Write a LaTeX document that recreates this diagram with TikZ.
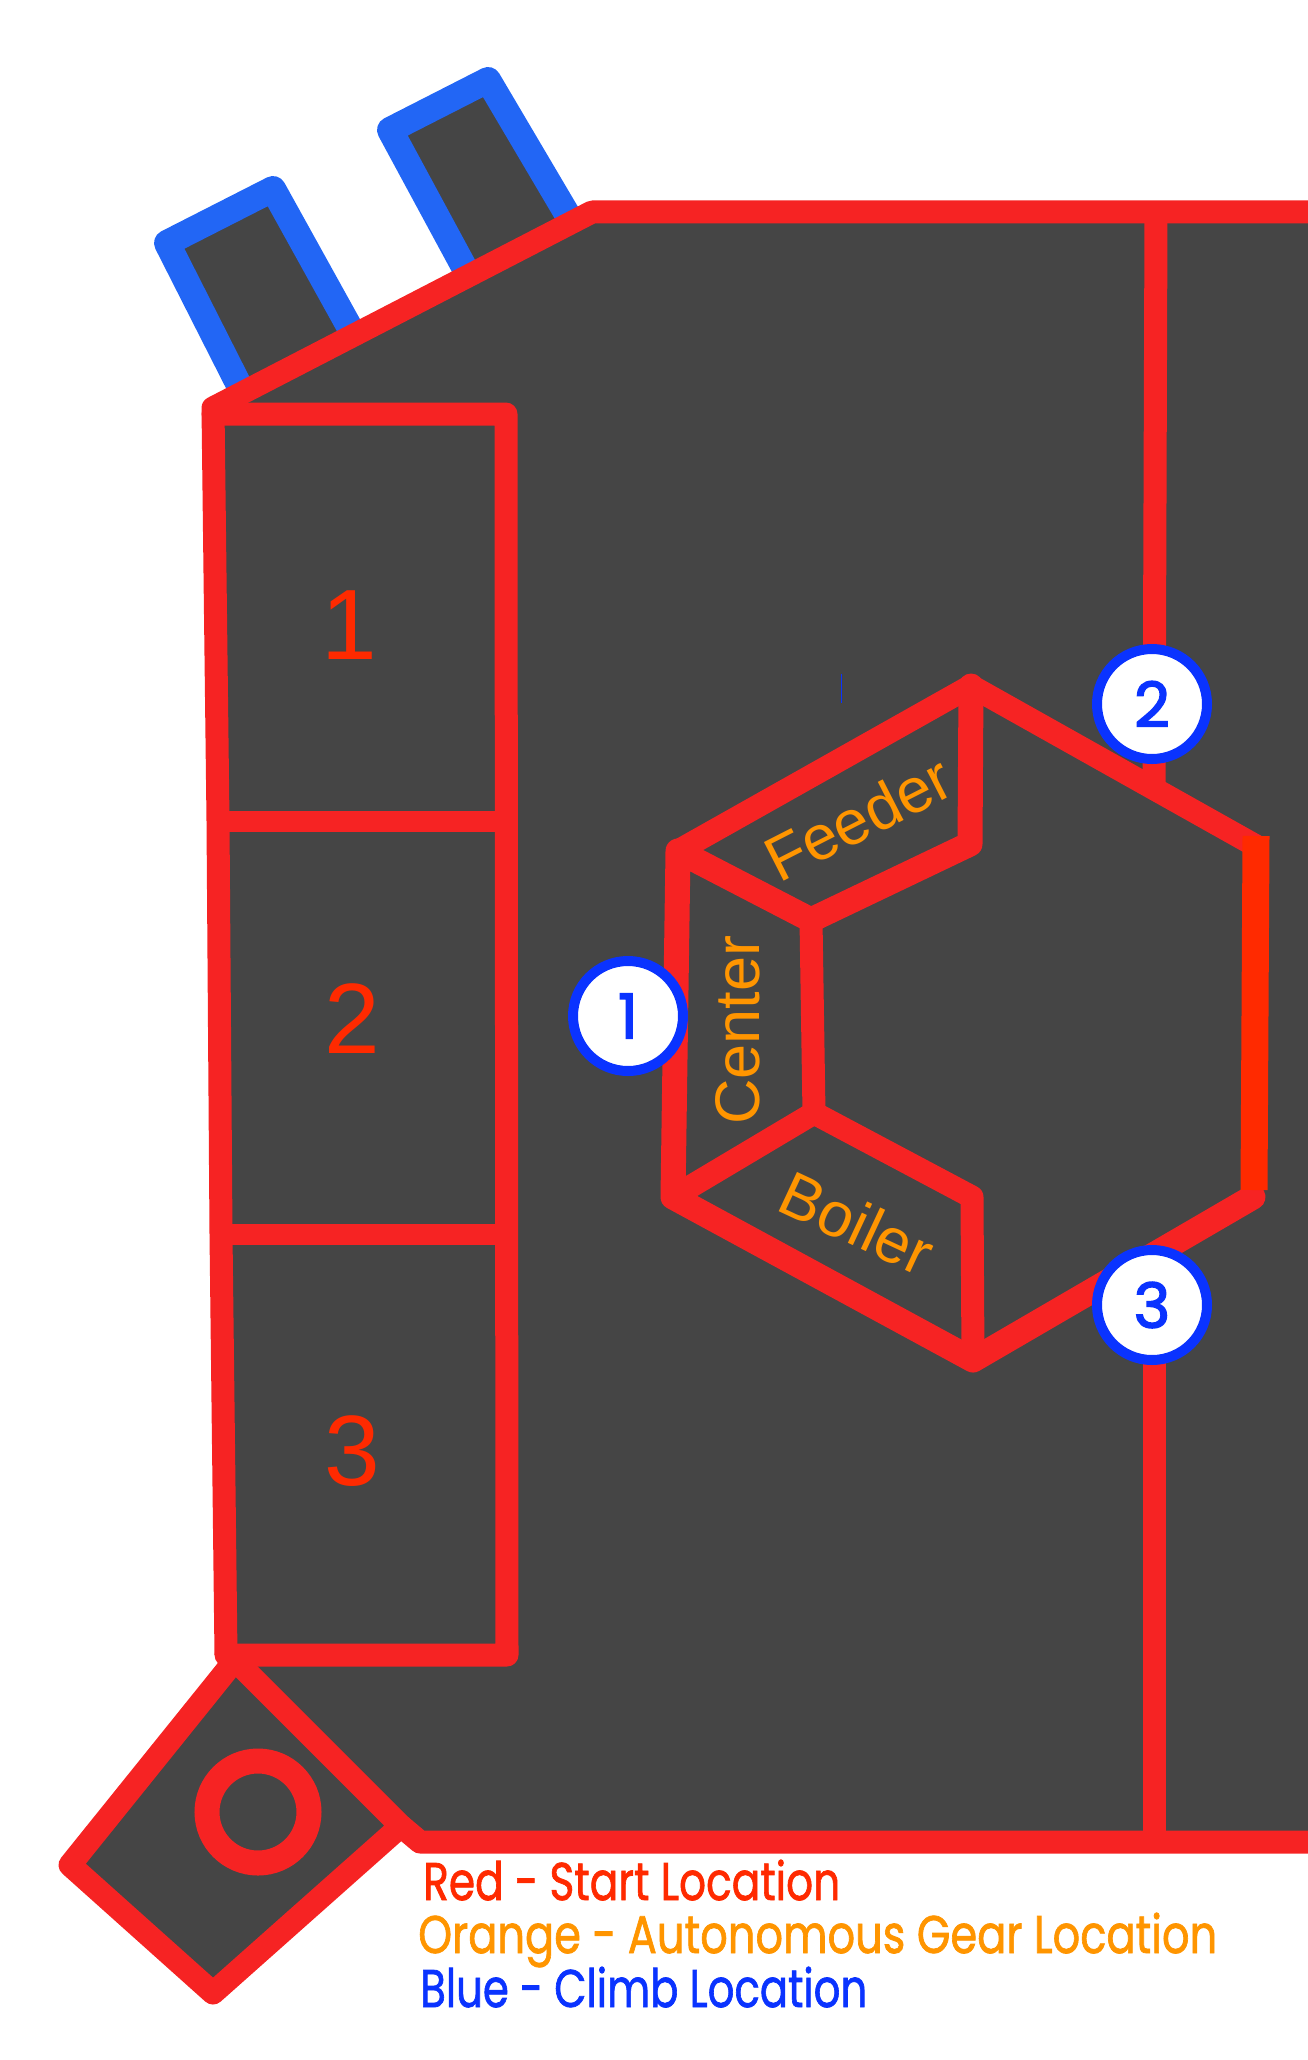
\documentclass[tikz,border=0pt]{standalone}
\usepackage{fontspec}
\usepackage{graphicx}
\setmainfont{Liberation Sans}
\newfontfamily\geofont[FakeBold=1.5]{Poppins}
\newfontfamily\markfont[FakeBold=2.5]{Poppins}
\definecolor{fieldgray}{HTML}{454545}
\definecolor{linered}{HTML}{F62323}
\definecolor{hotred}{HTML}{FF2A00}
\definecolor{climbblue}{HTML}{2266F5}
\definecolor{markblue}{HTML}{0A33FF}
\definecolor{gearorange}{HTML}{FF9500}
\tikzset{
  redline/.style={draw=linered,line width=23pt,line join=round,line cap=round},
  climbbay/.style={fill=fieldgray,draw=climbblue,line width=26pt,line join=round},
  startnum/.style={text=hotred,font=\fontsize{100}{100}\selectfont,inner sep=0pt},
  gearlabel/.style={text=gearorange,font=\fontsize{63}{63}\selectfont,inner sep=0pt},
  climbmark/.style={circle,fill=white,draw=markblue,line width=10pt,minimum size=110pt,inner sep=0pt,text=markblue,font=\markfont\fontsize{62}{62}\selectfont},
  legendtext/.style={anchor=base west,inner sep=0pt,font=\geofont\fontsize{53}{53}\selectfont},
}
\begin{document}
\begin{tikzpicture}[x=1pt,y=-1pt]
\useasboundingbox (0,0) rectangle (1308,2060);
% climb bays
\draw[climbbay] (243,393) -- (167,243) -- (273,189) -- (355,337);
\draw[climbbay] (470,278) -- (390,130) -- (488,80) -- (573,224);
% field
\fill[fieldgray] (1320,212) -- (592,212) -- (213,408) -- (226,1655) -- (235,1660) -- (416,1842) -- (1320,1842) -- cycle;
\draw[redline,line cap=butt] (1320,212) -- (592,212) -- (213,408) -- (218,821) -- (221,1234) -- (226,1655);
% diamond
\draw[redline,fill=fieldgray] (235,1660) -- (401,1826) -- (213,1993) -- (70,1865) -- cycle;
\draw[redline,line cap=butt] (401,1826) -- (420,1842) -- (1320,1842);
\draw[draw=linered,line width=25pt] (258,1812) circle[radius=51pt];
% start boxes
\draw[redline] (213,414) -- (506,414) -- (507,1655) -- (226,1655);
\draw[draw=linered,line width=21pt] (219,821) -- (507,821);
\draw[draw=linered,line width=21pt] (221,1234) -- (507,1234);
% vertical lines
\draw[draw=linered,line width=23pt] (1156,212) -- (1154,785);
\draw[draw=linered,line width=23pt] (1154,1300) -- (1154,1842);
% hexagon
\coordinate (hT) at (971,686);
\coordinate (hTR) at (1256,846);
\coordinate (hBR) at (1253,1197);
\coordinate (hB) at (973,1360);
\coordinate (hBL) at (673,1197);
\coordinate (hTL) at (678,851);
\coordinate (hI) at (811,920);
\coordinate (hJ) at (814,1113);
\coordinate (hF) at (970,844);
\coordinate (hG) at (972,1197);
\draw[redline] (hTL) -- (hT) -- (hTR);
\draw[redline,line width=25pt] (hBR) -- (hB) -- (hBL) -- (hTL) -- (hI) -- (hF) -- (hT);
\draw[redline] (hI) -- (hJ) -- (hBL);
\draw[redline] (hJ) -- (hG) -- (hB);
\draw[draw=hotred,line width=27pt] (1256,836) -- (1254,1190);
\draw[draw=markblue,line width=1.5pt] (841.5,674) -- (841.5,703);
% numbers
\node[startnum] (s1) at (349,625) {1};
\node[startnum] (s2) at (352,1019) {2};
\node[startnum] (s3) at (352,1451) {3};
% gear labels
\node[gearlabel,rotate=27] (feeder) at (858,818) {Feeder};
\node[gearlabel,rotate=90] (center) at (738,1030) {Center};
\node[gearlabel,rotate=-25] (boiler) at (857,1223) {Boiler};
% climb markers
\node[climbmark] (c1) at (628,1016) {1};
\node[climbmark] (c2) at (1152,704) {2};
\node[climbmark] (c3) at (1152,1305) {3};
% legend
\node[legendtext,text=hotred] (l1) at (423,1900) {\resizebox{417pt}{\height}{Red - Start Location}};
\node[legendtext,text=gearorange] (l2) at (418,1953) {\resizebox{799pt}{\height}{Orange - Autonomous Gear Location}};
\node[legendtext,text=markblue] (l3) at (420,2007) {\resizebox{447pt}{\height}{Blue - Climb Location}};
\end{tikzpicture}
\end{document}
